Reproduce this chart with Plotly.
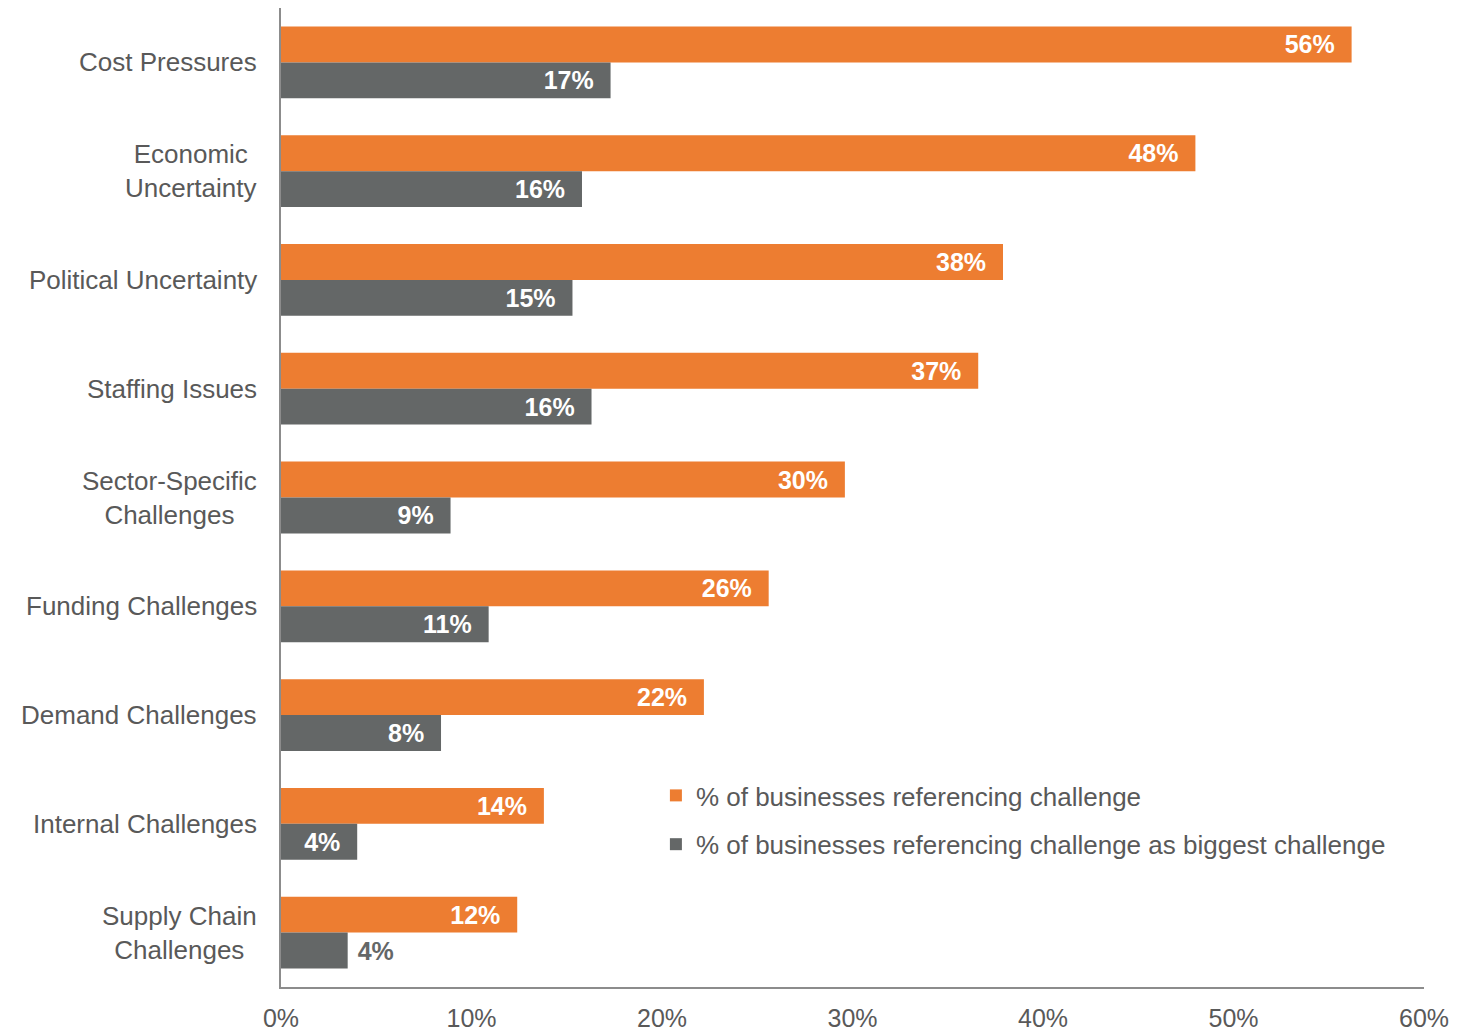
import plotly.graph_objects as go

categories = ["Cost Pressures", "Economic<br>Uncertainty", "Political Uncertainty", "Staffing Issues",
              "Sector-Specific<br>Challenges", "Funding Challenges", "Demand Challenges",
              "Internal Challenges", "Supply Chain<br>Challenges"]
cat_ids = ["Cost Pressures", "Economic Uncertainty", "Political Uncertainty", "Staffing Issues",
           "Sector-Specific Challenges", "Funding Challenges", "Demand Challenges",
           "Internal Challenges", "Supply Chain Challenges"]
any_challenge = [56.2, 48.0, 37.9, 36.6, 29.6, 25.6, 22.2, 13.8, 12.4]
biggest_challenge = [17.3, 15.8, 15.3, 16.3, 8.9, 10.9, 8.4, 4.0, 3.5]
series_names = ["% of businesses referencing challenge",
                "% of businesses referencing challenge as biggest challenge"]
tick_vals = [0, 10, 20, 30, 40, 50, 60]

ORANGE = "#ED7D31"
GREY = "#646767"
TEXT = "#595959"
FONT = "Liberation Sans, Arial, sans-serif"
NB = "\u00a0"


def labels(vals, outside_below=4):
    txt, pos = [], []
    for v in vals:
        if v < outside_below:
            txt.append(NB + f"{round(v)}%")
            pos.append("outside")
        else:
            txt.append(f"{round(v)}%" + NB * 2)
            pos.append("inside")
    return txt, pos


t1, p1 = labels(any_challenge)
t2, p2 = labels(biggest_challenge)

fig = go.Figure()
fig.add_trace(go.Bar(
    y=cat_ids, x=any_challenge, orientation="h", name=series_names[0],
    marker=dict(color=ORANGE, line=dict(width=0)),
    text=t1, textposition=p1, insidetextanchor="end",
    insidetextfont=dict(color="white", size=25, family=FONT, weight="bold"),
    outsidetextfont=dict(color=GREY, size=25, family=FONT, weight="bold"),
    constraintext="none", cliponaxis=False, legendgroup="a",
))
fig.add_trace(go.Bar(
    y=cat_ids, x=biggest_challenge, orientation="h", name=series_names[1],
    marker=dict(color=GREY, line=dict(width=0)),
    text=t2, textposition=p2, insidetextanchor="end",
    insidetextfont=dict(color="white", size=25, family=FONT, weight="bold"),
    outsidetextfont=dict(color=GREY, size=25, family=FONT, weight="bold"),
    constraintext="none", cliponaxis=False, legendgroup="b",
))

for cid, lab in zip(cat_ids, categories):
    fig.add_annotation(x=0, xref="paper", y=cid, yref="y", text=lab, showarrow=False,
                       xanchor="right", xshift=-22, align="center",
                       font=dict(size=26, color=TEXT, family=FONT))

fig.update_layout(
    width=1473, height=1033,
    margin=dict(l=281, r=49, t=8, b=46, autoexpand=False),
    paper_bgcolor="white", plot_bgcolor="white",
    barmode="group", bargap=0.34, bargroupgap=0,
    font=dict(family=FONT, color=TEXT, size=24),
    legend=dict(x=0.328, y=0.1706, xanchor="left", yanchor="middle",
                font=dict(size=26, color=TEXT, family=FONT),
                traceorder="grouped", tracegroupgap=12, bgcolor="rgba(0,0,0,0)",
                itemwidth=30),
    showlegend=True,
)
fig.update_xaxes(range=[0, 60], tickvals=tick_vals, ticktext=[f"{v}%" for v in tick_vals],
                 showgrid=False, zeroline=False, showline=True, linecolor="#8C8C8C", linewidth=2,
                 ticks="outside", ticklen=8, tickcolor="rgba(0,0,0,0)",
                 tickfont=dict(size=25, color=TEXT, family=FONT), automargin=False)
fig.update_yaxes(categoryorder="array", categoryarray=cat_ids, autorange="reversed",
                 showticklabels=False, showgrid=False, zeroline=False,
                 showline=True, linecolor="#8C8C8C", linewidth=2, ticks="", automargin=False)

fig.write_html("out.html")
